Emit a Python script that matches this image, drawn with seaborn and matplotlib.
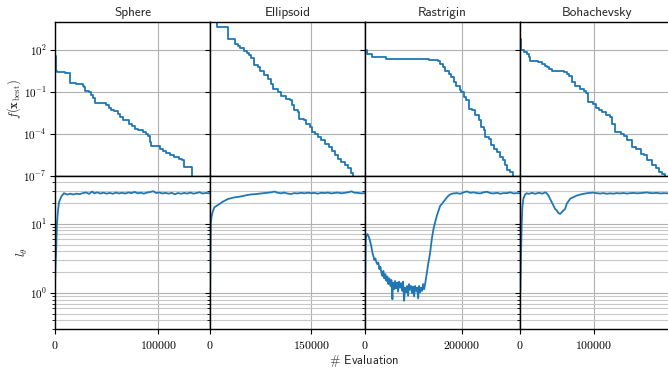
import pandas as pd
import seaborn as sns
import matplotlib.pyplot as plt
from matplotlib.ticker import FixedLocator, FuncFormatter, LogLocator, NullLocator
import numpy as np

functionNames = ["Sphere", "Ellipsoid", "Rastrigin", "Bohachevsky"]
evalLimits = [150000, 230000, 320000, 210000]
evalTicks = [[0, 100000], [0, 150000], [0, 200000], [0, 100000]]

# best objective value so far (step curves, top row)
sphereBestEvals = [0, 1000, 1600, 10000, 14500, 20400, 26800, 28100, 29400, 32700, 34900, 36500, 38500,
                   49500, 52100, 54600, 57500, 60800, 63000, 65600, 72100, 74700, 77900, 80200, 85000,
                   87600, 89900, 91500, 93100, 101200, 104400, 107700, 110900, 114800, 119900, 123200,
                   124800, 132900]
sphereBestValues = [39.4, 3.34, 2.54, 2.15, 0.44, 0.37, 0.254, 0.215, 0.112, 0.095, 0.055, 0.037, 0.0164,
                    0.0106, 0.0072, 0.0052, 0.0042, 0.0024, 0.00155, 9.0e-4, 5.2e-4, 3.3e-4, 2.3e-4,
                    1.7e-4, 1.3e-4, 1.0e-4, 6.5e-5, 2.5e-5, 1.25e-5, 8.5e-6, 5.5e-6, 4.2e-6, 2.8e-6,
                    2.15e-6, 1.6e-6, 1.25e-6, 4.2e-7, 1e-8]

ellipsoidBestEvals = [0, 9900, 27300, 37700, 41100, 45100, 51100, 55000, 58500, 61000, 64900, 70900, 74900,
                      80800, 85800, 90700, 93700, 100600, 105600, 113000, 118000, 121400, 124400, 130400,
                      132800, 139300, 142800, 147700, 151200, 155200, 160100, 165100, 171000, 176000,
                      180900, 184900, 189900, 194800, 199800, 204700, 209700, 212200]
ellipsoidBestValues = [2e5, 4640, 611, 268, 204, 132, 89.6, 61, 44, 26.8, 8.97, 5.78, 3.34, 1.47, 0.85,
                       0.37, 0.164, 0.095, 0.046, 0.032, 0.024, 0.0106, 0.0046, 0.0035, 0.00118, 9.0e-4,
                       5.2e-4, 3.0e-4, 1.3e-4, 1.0e-4, 5.8e-5, 3.3e-5, 1.9e-5, 1.1e-5, 5.8e-6, 2.8e-6,
                       1.6e-6, 9.5e-7, 5.5e-7, 3.2e-7, 1.4e-7, 1e-8]

rastriginBestEvals = [0, 3400, 13800, 43500, 133100, 151700, 155200, 160700, 165500, 172400, 177300, 182800,
                      188300, 195200, 198600, 204800, 209000, 213800, 220700, 227600, 234500, 239300,
                      244800, 248300, 255200, 260000, 265500, 272400, 279300, 284800, 289700, 293100,
                      300000, 305500]
rastriginBestValues = [100, 52, 33, 23, 18, 15, 10, 5.8, 3.3, 1.9, 1.1, 0.49, 0.28, 0.139, 0.095, 0.042,
                       0.024, 0.0061, 0.0046, 0.0020, 9e-4, 3e-4, 1.7e-4, 5.8e-5, 4.4e-5, 1.5e-5, 8.5e-6,
                       4.9e-6, 2.15e-6, 1.25e-6, 5.5e-7, 2.4e-7, 1.8e-7, 1e-8]

bohachevskyBestEvals = [0, 1400, 5000, 9500, 11800, 14000, 24400, 29900, 34400, 36700, 38900, 43400, 59300,
                        63800, 67000, 70600, 75100, 81900, 86400, 89600, 92300, 98700, 102300, 106800,
                        111300, 115900, 121300, 124900, 128500, 136200, 140800, 145300, 152100, 156600,
                        163400, 167900, 172400, 179200, 183800, 188300, 192800, 196400]
bohachevskyBestValues = [611, 100, 76, 51.8, 33.4, 17.3, 13.2, 10, 7.6, 5.8, 4.4, 3.0, 2.54, 1.93, 1.25,
                         0.49, 0.28, 0.164, 0.112, 0.080, 0.0183, 0.0139, 0.0072, 0.0052, 0.0035, 0.0023,
                         0.00155, 5.2e-4, 1.3e-4, 1.0e-4, 6.5e-5, 3.7e-5, 1.1e-5, 8.5e-6, 3.7e-6, 2.8e-6,
                         1.25e-6, 5.5e-7, 3.2e-7, 1.8e-7, 1.25e-7, 1e-8]

# l_theta (bottom row)
sphereLenEvals = [0, 500, 1000, 1500, 1900, 2800, 3900, 6100, 8700, 12000, 15000, 18000, 21000, 24000,
                  27000, 30000, 33000, 36000, 38000, 41000, 44000, 47000, 50000, 53000, 56000, 59000,
                  62000, 65000, 68000, 71000, 74000, 77000, 80000, 83000, 86000, 89000, 92000, 95000,
                  98000, 101000, 104000, 107000, 110000, 113000, 116000, 119000, 122000, 125000, 128000,
                  131000, 134000, 137000, 140000, 143000, 146000, 149000, 150000]
sphereLenValues = [1.3, 2.5, 3.7, 6.5, 10, 15, 20.5, 24.8, 27.7, 26.5, 27.2, 26.6, 27.3, 26.9, 27.8, 28.4,
                   27.1, 29.3, 27.6, 28.5, 27.4, 28.2, 27.3, 28.0, 27.2, 28.3, 27.5, 28.1, 27.4, 28.4,
                   27.8, 28.9, 27.6, 28.2, 27.3, 28.3, 28.8, 29.6, 27.9, 28.4, 27.5, 28.0, 27.3, 28.1,
                   26.7, 27.9, 27.2, 28.0, 27.4, 28.3, 27.3, 27.9, 28.6, 27.4, 28.0, 27.6, 27.9]

ellipsoidLenEvals = [0, 400, 800, 1200, 2500, 4000, 6400, 11400, 18800, 26300, 36200, 46100, 53000, 61000,
                     68000, 75800, 83000, 90700, 95700, 100000, 105600, 110000, 115000, 120500, 125000,
                     130400, 135000, 140000, 145000, 150200, 155000, 160000, 165000, 170000, 175000,
                     180000, 185000, 189900, 195000, 200000, 205000, 209700, 214000, 219600, 224000, 230000]
ellipsoidLenValues = [0.6, 1.5, 4.0, 10.0, 13.0, 14.9, 17.3, 18.6, 20.8, 22.8, 24.1, 24.9, 25.8, 26.6,
                      26.9, 27.5, 28.0, 28.5, 29.3, 28.2, 27.6, 28.3, 27.4, 27.0, 27.8, 27.5, 28.1, 27.6,
                      28.2, 27.7, 28.0, 27.3, 28.1, 27.8, 28.3, 27.5, 28.0, 28.3, 27.6, 28.1, 28.5, 29.5,
                      28.2, 28.0, 27.6, 27.8]

rastriginLenEvals = [0, 700, 1400, 2800, 4800, 6900, 9000, 11000, 13100, 15200, 17200, 19300, 21400, 23400,
                     25500, 27600, 29700, 31700, 33800, 35900, 37900, 40000, 42100, 44100, 46200, 48300,
                     50300, 52400, 54500, 56600, 57900, 60000, 62100, 64100, 66200, 68300, 70300, 72400,
                     74500, 76600, 78600, 80700, 82800, 84800, 86900, 89000, 91000, 93100, 95200, 97200,
                     99300, 101400, 103500, 105500, 107600, 109700, 111700, 113800, 115900, 117900, 120000,
                     122100, 124100, 126200, 128300, 131000, 134500, 137900, 141400, 144800, 148300,
                     151700, 155200, 158600, 162100, 165500, 169000, 172400, 175900, 179300, 182800,
                     189700, 196600, 203500, 210400, 217300, 224200, 231000, 237900, 244800, 251700,
                     258600, 265500, 272400, 279300, 286200, 293100, 300000, 306900, 313800, 320000]
rastriginLenValues = [0.9, 2.0, 6.0, 6.7, 7.1, 6.7, 6.1, 5.4, 4.7, 3.85, 3.44, 3.0, 3.15, 2.8, 2.6, 2.75,
                      2.2, 2.4, 1.97, 1.76, 2.08, 1.62, 1.87, 1.49, 1.73, 1.34, 1.62, 1.26, 1.54, 0.81,
                      1.41, 1.13, 1.49, 1.16, 1.41, 1.04, 1.45, 1.19, 1.39, 1.07, 1.45, 0.77, 1.19, 1.02,
                      1.26, 0.91, 1.34, 1.11, 1.26, 0.99, 1.23, 0.89, 1.26, 1.07, 1.19, 0.83, 1.26, 1.02,
                      1.19, 1.07, 1.34, 1.13, 1.34, 1.67, 2.08, 2.75, 3.85, 6.0, 8.4, 10.5, 13.1, 15.4,
                      18.2, 19.3, 20.8, 22.3, 24.1, 25.5, 26.6, 27.2, 27.5, 27.8, 27.2, 28.5, 29.4, 28.1,
                      28.5, 27.8, 27.5, 28.5, 29.1, 27.8, 27.5, 28.1, 27.2, 27.8, 27.8, 28.5, 27.5, 27.8,
                      27.6]

bohachevskyLenEvals = [0, 450, 1400, 2300, 3200, 4500, 6800, 9100, 11000, 13600, 16000, 18100, 20500,
                       22600, 25000, 27200, 29500, 31700, 33500, 35300, 38500, 40700, 43000, 45300, 47500,
                       49800, 52000, 54300, 56600, 58800, 61100, 63400, 65600, 67900, 72400, 76900, 81500,
                       86000, 90500, 95000, 99600, 104100, 108600, 113200, 117700, 122000, 126700, 131000,
                       135800, 140000, 144800, 149000, 153900, 158000, 162900, 167000, 172000, 176000,
                       181000, 185000, 190100, 195000, 199100, 204000, 210000]
bohachevskyLenValues = [0.9, 1.03, 3.7, 10, 17.4, 23.0, 26.5, 27.7, 27.2, 27.4, 28.0, 27.7, 27.2, 27.5,
                        28.1, 27.9, 27.3, 27.7, 28.4, 28.3, 25.7, 23.0, 20.5, 18.4, 16.4, 15.6, 14.3, 13.9,
                        14.7, 15.6, 16.4, 19.5, 21.2, 23.0, 24.3, 25.6, 26.5, 27.1, 27.7, 28.0, 28.3, 27.7,
                        27.4, 27.8, 27.2, 27.6, 27.3, 27.8, 27.5, 27.9, 27.4, 27.7, 28.0, 27.6, 27.8, 28.1,
                        28.4, 27.9, 27.7, 28.1, 27.5, 27.8, 27.6, 27.9, 27.8]

bestSeries = [(sphereBestEvals, sphereBestValues), (ellipsoidBestEvals, ellipsoidBestValues),
              (rastriginBestEvals, rastriginBestValues), (bohachevskyBestEvals, bohachevskyBestValues)]
lenSeries = [(sphereLenEvals, sphereLenValues), (ellipsoidLenEvals, ellipsoidLenValues),
             (rastriginLenEvals, rastriginLenValues), (bohachevskyLenEvals, bohachevskyLenValues)]

lineColor = "#1f77b4"

sns.set_style("ticks", {
    "axes.edgecolor" : "black",
    "axes.grid" : True,
    "grid.color" : "#b0b0b0",
    "xtick.color" : "black",
    "ytick.color" : "black",
})
plt.rcParams["mathtext.fontset"] = "cm"
plt.rcParams["axes.linewidth"] = 1.0
plt.rcParams["xtick.major.size"] = 3.5
plt.rcParams["ytick.major.size"] = 3.5
plt.rcParams["ytick.minor.size"] = 2.0

def powerLabel(value, pos) :
    return r"$10^{%d}$" % int(round(np.log10(value)))

def plainLabel(value, pos) :
    return r"$%d$" % int(value)

fig, axes = plt.subplots(2, 4, figsize = (6.68, 3.71), dpi = 100, sharex = "col", sharey = "row")
fig.subplots_adjust(left = 0.0823, right = 1.0105, top = 0.9407, bottom = 0.1132, wspace = 0, hspace = 0)

for col, name in enumerate(functionNames) :
    topAx = axes[0, col]
    botAx = axes[1, col]

    bestFrame = pd.DataFrame({"evaluation" : bestSeries[col][0], "value" : bestSeries[col][1]})
    sns.lineplot(data = bestFrame, x = "evaluation", y = "value", ax = topAx, estimator = None,
                 drawstyle = "steps-post", color = lineColor, linewidth = 1.3)

    lenFrame = pd.DataFrame({"evaluation" : lenSeries[col][0], "value" : lenSeries[col][1]})
    sns.lineplot(data = lenFrame, x = "evaluation", y = "value", ax = botAx, estimator = None,
                 color = lineColor, linewidth = 1.3)

    topAx.set_title(name, family = "cmss10", fontsize = 9.5, pad = 4)
    botAx.set_xlim(0, evalLimits[col])
    botAx.xaxis.set_major_locator(FixedLocator(evalTicks[col]))
    botAx.xaxis.set_major_formatter(FuncFormatter(plainLabel))
    botAx.tick_params(axis = "x", labelsize = 8.5)

    for ax in (topAx, botAx) :
        ax.set_xlabel("")
        ax.set_ylabel("")
        ax.set_yscale("log")
        ax.grid(True, which = "major", color = "#b0b0b0", linewidth = 0.8)
        for spine in ax.spines.values() :
            spine.set_visible(True)
            spine.set_color("black")

    topAx.yaxis.set_minor_locator(NullLocator())
    botAx.grid(True, which = "minor", axis = "y", color = "#c8c8c8", linewidth = 0.8)

axes[0, 0].set_ylim(1e-7, 1e4)
axes[0, 0].yaxis.set_major_locator(FixedLocator([1e-7, 1e-4, 1e-1, 1e2]))
axes[0, 0].yaxis.set_major_formatter(FuncFormatter(powerLabel))
axes[1, 0].set_ylim(0.3, 50)
axes[1, 0].yaxis.set_major_locator(FixedLocator([1, 10]))
axes[1, 0].yaxis.set_minor_locator(LogLocator(base = 10, subs = np.arange(2, 10)))
axes[1, 0].yaxis.set_major_formatter(FuncFormatter(powerLabel))
axes[1, 0].yaxis.set_minor_formatter(FuncFormatter(lambda v, p : ""))

for row in range(2) :
    axes[row, 0].tick_params(axis = "y", labelsize = 8, pad = 2.5)

axes[0, 0].set_ylabel(r"$f(\mathbf{x}_\mathrm{best})$", fontsize = 9, labelpad = 0.5)
axes[1, 0].set_ylabel(r"$l_\theta$", fontsize = 9, labelpad = 0)

fig.supxlabel(r"$\#$ Evaluation", x = 0.545, y = 0.027, va = "center", family = "cmss10", fontsize = 9)

fig.savefig("out.png", dpi = 100)
